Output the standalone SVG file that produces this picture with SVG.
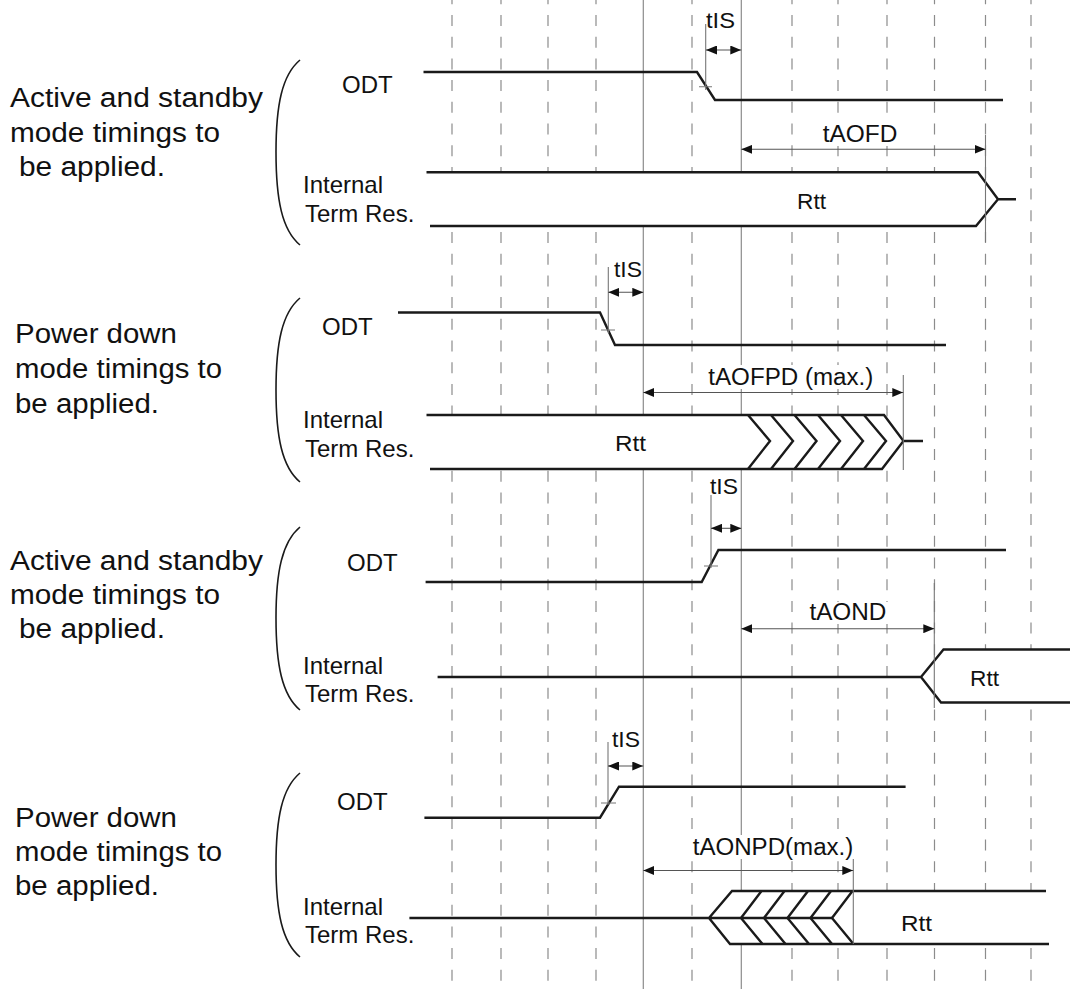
<svg xmlns="http://www.w3.org/2000/svg" width="1070" height="989" viewBox="0 0 1070 989">
<defs>
<marker id="ah" viewBox="0 0 11 9" refX="11" refY="4.5" markerWidth="11" markerHeight="9" markerUnits="userSpaceOnUse" orient="auto-start-reverse"><path d="M0,0 L11,4.5 L0,9 z" fill="#111"/></marker>
</defs>
<style>
.grid{stroke:#8c8c8c;stroke-width:1.2;stroke-dasharray:11 10.7;stroke-dashoffset:6.7;fill:none}
.ref{stroke:#8c8c8c;stroke-width:1.2;fill:none}
.sig{stroke:#1a1a1a;stroke-width:2.4;fill:none;stroke-linejoin:miter}
.box{fill:#fff;stroke:none}
.mk{stroke:#777;stroke-width:1.1;fill:none}
.arr{stroke:#555;stroke-width:1.1;fill:none;marker-start:url(#ah);marker-end:url(#ah)}
.br{stroke:#1a1a1a;stroke-width:1.6;fill:none}
text{font-family:"Liberation Sans",Arial,sans-serif;fill:#111}
.big{font-size:27px}
.sl{font-size:24px}
.tl{font-size:23px}
.ts{font-size:22px}
.bg{fill:#fff}
</style>
<rect width="1070" height="989" fill="#fff"/>
<g id="grid">
<path class="grid" d="M452,0V989M501,0V989M548,0V989M596,0V989M692,0V989M792,0V989M838,0V989M887,0V989M934.5,0V989M985.5,0V989M1031,0V989"/>
<path class="ref" d="M643.3,0V989M741.3,0V989"/>
</g>
<g id="section1">
<g id="s1-labels">
<text class="big" x="10" y="107" textLength="253" lengthAdjust="spacingAndGlyphs">Active and standby</text>
<text class="big" x="10" y="142" textLength="210" lengthAdjust="spacingAndGlyphs">mode timings to</text>
<text class="big" x="19" y="176" textLength="146" lengthAdjust="spacingAndGlyphs">be applied.</text>
<path class="br" d="M300,60 C282,75 276,105 276,152 C276,200 282,230 300,245"/>
<text class="sl" x="342" y="93">ODT</text>
<text class="sl" x="303" y="193">Internal</text>
<text class="sl" x="305" y="222">Term Res.</text>
</g>
<g id="s1-odt"><path class="sig" d="M423.5,72 L697,72 L715,100 L1003,100"/></g>
<g id="s1-rtt">
<polygon class="box" points="426.5,172.3 978,172.3 998,199.3 976,226 430,226"/>
<path class="sig" d="M426.5,172.3 L978,172.3 L998,199.3 L976,226 L430,226 M998,199.3 L1016,199.3"/>
<text class="ts" x="797" y="209" textLength="29" lengthAdjust="spacingAndGlyphs">Rtt</text>
</g>
<g id="s1-marks">
<path class="mk" d="M705.7,24V90M699,86.7H712M985.5,135V242"/>
<rect class="bg" x="820" y="123" width="80" height="23"/>
<text class="tl" x="822.7" y="142" textLength="74.7" lengthAdjust="spacingAndGlyphs">tAOFD</text>
<text class="ts" x="706" y="28" textLength="29" lengthAdjust="spacingAndGlyphs">tIS</text>
</g>
</g>
<g id="section2">
<g id="s2-labels">
<text class="big" x="15" y="343" textLength="162" lengthAdjust="spacingAndGlyphs">Power down</text>
<text class="big" x="15" y="378" textLength="207" lengthAdjust="spacingAndGlyphs">mode timings to</text>
<text class="big" x="15" y="413" textLength="144" lengthAdjust="spacingAndGlyphs">be applied.</text>
<path class="br" d="M300,298 C282,313 276,343 276,390 C276,437 282,467 300,482"/>
<text class="sl" x="322" y="335">ODT</text>
<text class="sl" x="303" y="428">Internal</text>
<text class="sl" x="305" y="457">Term Res.</text>
</g>
<g id="s2-odt"><path class="sig" d="M398,312.5 L600,312.5 L615,345 L946,345"/></g>
<g id="s2-rtt">
<polygon class="box" points="426.5,415 884,415 903.5,441 882,469 430,469"/>
<path class="sig" d="M426.5,415 L884,415 L903.5,441 L882,469 L430,469 M903.5,441 L923,441"/>
<path class="sig" stroke-width="2" d="M748,415 L770,441 L748,469 M771,415 L793,441 L771,469 M794.5,415 L816.5,441 L794.5,469 M818,415 L840,441 L818,469 M841,415 L863,441 L841,469 M864,415 L886,441 L864,469"/>
<text class="ts" x="615" y="451" textLength="31" lengthAdjust="spacingAndGlyphs">Rtt</text>
</g>
<g id="s2-marks">
<path class="mk" d="M608.3,267V333M601,330H615M903.3,375V470"/>
<rect class="bg" x="706" y="365" width="170" height="24"/>
<text class="tl" x="708.3" y="385" textLength="165" lengthAdjust="spacingAndGlyphs">tAOFPD (max.)</text>
<text class="ts" x="614" y="277" textLength="28" lengthAdjust="spacingAndGlyphs">tIS</text>
</g>
</g>
<g id="section3">
<g id="s3-labels">
<text class="big" x="10" y="570" textLength="253" lengthAdjust="spacingAndGlyphs">Active and standby</text>
<text class="big" x="10" y="604" textLength="210" lengthAdjust="spacingAndGlyphs">mode timings to</text>
<text class="big" x="19" y="638" textLength="146" lengthAdjust="spacingAndGlyphs">be applied.</text>
<path class="br" d="M300,527 C282,542 276,572 276,618 C276,665 282,695 300,710"/>
<text class="sl" x="347" y="571">ODT</text>
<text class="sl" x="303" y="674">Internal</text>
<text class="sl" x="305" y="702">Term Res.</text>
</g>
<g id="s3-odt"><path class="sig" d="M425.6,582 L701.7,582 L718.4,550 L1006,550"/></g>
<g id="s3-rtt">
<polygon class="box" points="1070,649.5 943.5,649.5 921,677 941,702.5 1070,702.5"/>
<path class="sig" d="M437.6,677 L921,677 M1070,649.5 L943.5,649.5 L921,677 L941,702.5 L1070,702.5"/>
<text class="ts" x="970" y="686" textLength="29" lengthAdjust="spacingAndGlyphs">Rtt</text>
</g>
<g id="s3-marks">
<path class="mk" d="M711,495V568M704,566H718M934.3,583V708"/>
<rect class="bg" x="807" y="602" width="82" height="22"/>
<text class="tl" x="809.4" y="620" textLength="77" lengthAdjust="spacingAndGlyphs">tAOND</text>
<text class="ts" x="710" y="494" textLength="28" lengthAdjust="spacingAndGlyphs">tIS</text>
</g>
</g>
<g id="section4">
<g id="s4-labels">
<text class="big" x="15" y="827" textLength="162" lengthAdjust="spacingAndGlyphs">Power down</text>
<text class="big" x="15" y="861" textLength="207" lengthAdjust="spacingAndGlyphs">mode timings to</text>
<text class="big" x="15" y="895" textLength="144" lengthAdjust="spacingAndGlyphs">be applied.</text>
<path class="br" d="M300,773 C282,788 276,818 276,865 C276,912 282,942 300,957"/>
<text class="sl" x="337" y="810">ODT</text>
<text class="sl" x="303" y="915">Internal</text>
<text class="sl" x="305" y="943">Term Res.</text>
</g>
<g id="s4-odt"><path class="sig" d="M424.4,817.7 L600,817.7 L619,786.7 L905.6,786.7"/></g>
<g id="s4-rtt">
<polygon class="box" points="1046,891 732,891 709,918 730,944 1049,944"/>
<path class="sig" d="M409.4,918 L832,918 M1046,891 L732,891 L709,918 L730,944 L1049,944"/>
<path class="sig" stroke-width="2" d="M761.5,891 L741,918 L762.5,944 M784.5,891 L764,918 L785.5,944 M808,891 L787.5,918 L809,944 M831,891 L810.5,918 L832,944 M852.5,891 L832,918 L853.5,944"/>
<text class="ts" x="901" y="931" textLength="31" lengthAdjust="spacingAndGlyphs">Rtt</text>
</g>
<g id="s4-marks">
<path class="mk" d="M608,742V805M601,803H616M853.3,856V944"/>
<rect class="bg" x="690" y="835" width="164" height="24"/>
<text class="tl" x="692.7" y="855" textLength="160.6" lengthAdjust="spacingAndGlyphs">tAONPD(max.)</text>
<text class="ts" x="612" y="747" textLength="28" lengthAdjust="spacingAndGlyphs">tIS</text>
</g>
</g>
<g id="connectors">
<line class="arr" x1="706" y1="50" x2="741.3" y2="50"/>
<line class="arr" x1="741.3" y1="149.3" x2="985.5" y2="149.3"/>
<line class="arr" x1="608.3" y1="292.3" x2="643.3" y2="292.3"/>
<line class="arr" x1="643.3" y1="392.5" x2="903.3" y2="392.5"/>
<line class="arr" x1="711" y1="528.3" x2="741.3" y2="528.3"/>
<line class="arr" x1="741.3" y1="628.7" x2="934.3" y2="628.7"/>
<line class="arr" x1="608" y1="766" x2="643.3" y2="766"/>
<line class="arr" x1="643.3" y1="870.5" x2="853.3" y2="870.5"/>
</g>
</svg>
